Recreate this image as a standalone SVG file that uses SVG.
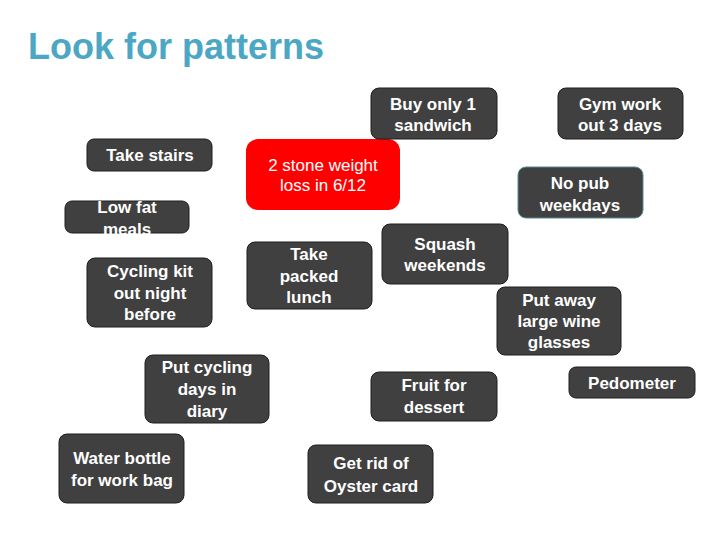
<svg xmlns="http://www.w3.org/2000/svg" width="720" height="540" viewBox="0 0 720 540">
<style>
.b{fill:#404040;stroke:#1e1e1e;stroke-width:1}
.r{fill:#ff0000;stroke:none}
.t{font-family:"Liberation Sans",Arial,sans-serif;font-weight:bold;font-size:17px;fill:#ffffff;text-anchor:middle}
.g{font-family:"Liberation Sans",Arial,sans-serif;font-weight:normal;font-size:17px;fill:#ffffff;text-anchor:middle}
.h{font-family:"Liberation Sans",Arial,sans-serif;font-weight:bold;font-size:36px;fill:#4ba7c4}
</style>
<rect width="720" height="540" fill="#ffffff"/>
<text class="h" x="28" y="59">Look for patterns</text>
<g id="connectors"/>
<g id="goal"><rect class="r" x="246" y="139" width="154" height="71" rx="12"/><text class="g" x="323" y="171">2 stone weight</text><text class="g" x="323" y="191">loss in 6/12</text></g>
<g id="n-stairs"><rect class="b" x="87" y="139" width="125" height="32" rx="7"/><text class="t" x="150" y="161">Take stairs</text></g>
<g id="n-lowfat"><rect class="b" x="65" y="201" width="124" height="32" rx="7"/><text class="t" x="127" y="213">Low fat</text><text class="t" x="127" y="235">meals</text></g>
<g id="n-cycling"><rect class="b" x="87" y="258" width="125" height="69" rx="8"/><text class="t" x="150" y="277">Cycling kit</text><text class="t" x="150" y="299">out night</text><text class="t" x="150" y="320">before</text></g>
<g id="n-lunch"><rect class="b" x="247" y="242" width="125" height="67" rx="8"/><text class="t" x="309" y="260">Take</text><text class="t" x="309" y="282">packed</text><text class="t" x="309" y="303">lunch</text></g>
<g id="n-sandwich"><rect class="b" x="371" y="88" width="126" height="51" rx="8"/><text class="t" x="433" y="110">Buy only 1</text><text class="t" x="433" y="131">sandwich</text></g>
<g id="n-gym"><rect class="b" x="558" y="88" width="125" height="51" rx="8"/><text class="t" x="620" y="110">Gym work</text><text class="t" x="620" y="131">out 3 days</text></g>
<g id="n-pub"><rect class="b" x="518" y="167" width="125" height="51" rx="8" style="stroke:#5a8a94"/><text class="t" x="580" y="189">No pub</text><text class="t" x="580" y="211">weekdays</text></g>
<g id="n-squash"><rect class="b" x="382" y="224" width="126" height="60" rx="8"/><text class="t" x="445" y="250">Squash</text><text class="t" x="445" y="271">weekends</text></g>
<g id="n-wine"><rect class="b" x="497" y="287" width="124" height="68" rx="8"/><text class="t" x="559" y="306">Put away</text><text class="t" x="559" y="327">large wine</text><text class="t" x="559" y="348">glasses</text></g>
<g id="n-diary"><rect class="b" x="145" y="355" width="124" height="68" rx="8"/><text class="t" x="207" y="373">Put cycling</text><text class="t" x="207" y="395">days in</text><text class="t" x="207" y="417">diary</text></g>
<g id="n-water"><rect class="b" x="59" y="434" width="125" height="69" rx="8"/><text class="t" x="122" y="464">Water bottle</text><text class="t" x="122" y="486">for work bag</text></g>
<g id="n-fruit"><rect class="b" x="371" y="372" width="126" height="49" rx="8"/><text class="t" x="434" y="391">Fruit for</text><text class="t" x="434" y="413">dessert</text></g>
<g id="n-pedometer"><rect class="b" x="569" y="367" width="126" height="31" rx="7"/><text class="t" x="632" y="389">Pedometer</text></g>
<g id="n-oyster"><rect class="b" x="308" y="445" width="125" height="58" rx="8"/><text class="t" x="371" y="469">Get rid of</text><text class="t" x="371" y="492">Oyster card</text></g>
</svg>
